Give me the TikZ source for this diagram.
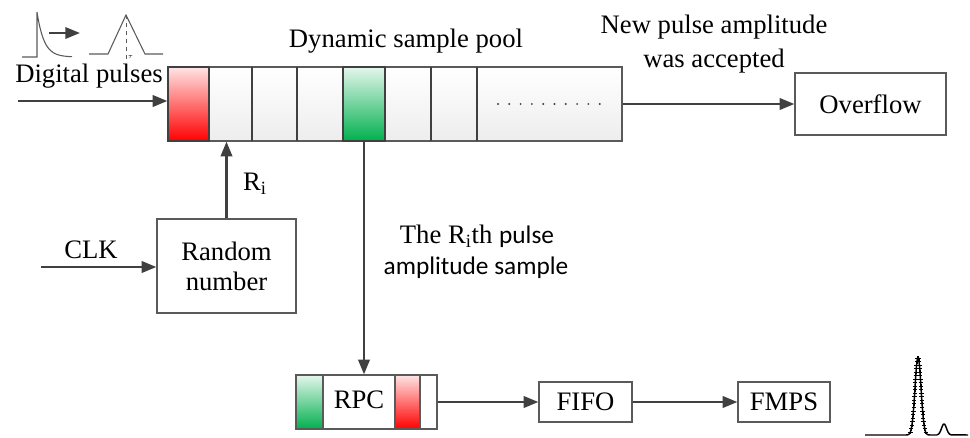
\documentclass[tikz,border=0pt]{standalone}
\usepackage{fontspec}
\setmainfont{Liberation Serif}
\newfontfamily\sanstext{Carlito}
\usetikzlibrary{arrows.meta,calc}
\definecolor{lineclr}{HTML}{404040}
\definecolor{boxclr}{HTML}{5A5A5A}
\definecolor{grnA}{HTML}{E4F6EC}
\definecolor{grnB}{HTML}{00D890}
\definecolor{grnC}{HTML}{00B04E}
\definecolor{redA}{HTML}{FFE4E4}
\begin{document}
\begin{tikzpicture}[x=0.75pt,y=-0.75pt,
  font=\fontsize{20}{23}\selectfont,
  conn/.style={draw=lineclr,line width=1.9pt,-{Triangle[length=11pt,width=8.5pt]}},
  block/.style={draw=boxclr,line width=0.9pt,fill=white,inner sep=0pt,align=center},
  pool/.style={draw=boxclr,line width=0.9pt,top color=white,bottom color=black!7,inner sep=0pt},
  redcell/.style={draw=lineclr,line width=0.9pt,top color=redA,bottom color=red,inner sep=0pt},
  grncell/.style={draw=lineclr,line width=0.9pt,top color=grnA,middle color=grnB,bottom color=grnC,inner sep=0pt},
  divider/.style={draw=lineclr,line width=2pt},
  label/.style={inner sep=0pt,align=center},
  icon/.style={draw=boxclr,line width=0.8pt}]
\useasboundingbox (0,0) rectangle (970,437);

% dynamic sample pool
\node[pool,minimum width=340.5pt,minimum height=55.5pt] (pool) at (395,104) {};
\node[redcell,minimum width=30.75pt,minimum height=55.5pt] (red) at (188.5,104) {};
\node[grncell,minimum width=31.5pt,minimum height=55.5pt,line width=2pt] (grn) at (364,104) {};
\foreach \xx in {252,297,431,477}
  \draw[divider] (\xx,67) -- (\xx,141);
\foreach \k in {0,...,9}
  \fill[lineclr] ({498+\k*11.3},104) circle (0.8pt);

% blocks
\node[block,minimum width=113.25pt,minimum height=46.5pt] (ovf) at (870.5,104) {Overflow};
\node[block,minimum width=104.25pt,minimum height=70.5pt,font=\fontsize{20}{22.5}\selectfont] (rand) at (226.5,266) {Random\\number};
\node[block,minimum width=105.75pt,minimum height=40.5pt] (rpc) at (366.5,402) {};
\node[grncell,draw=boxclr,line width=0.9pt,minimum width=20.25pt,minimum height=40.5pt] (rgrn) at (309.5,402) {};
\node[redcell,draw=boxclr,line width=0.9pt,minimum width=18.75pt,minimum height=40.5pt] (rred) at (407.5,402) {};
\node[label] (rpct) at (359,400) {RPC};
\node[block,minimum width=69.75pt,minimum height=30pt] (fifo) at (585.5,402) {FIFO};
\node[block,minimum width=69pt,minimum height=30pt] (fmps) at (784,402) {FMPS};

% labels
\node[label] (dp) at (89,76) {Digital pulses};
\node[label] (dsp) at (406,41) {Dynamic sample pool};
\node[label,font=\fontsize{20}{25.5}\selectfont] (npa) at (714,44) {New pulse amplitude\\was accepted};
\node[label] (clk) at (91,250) {CLK};
\node[label] (ri) at (255,184) {R\textsubscript{i}};
\node[label] (rith) at (477,236) {The R\textsubscript{i}th {\sanstext\fontsize{19}{22}\selectfont pulse}};
\node[label,font=\sanstext\fontsize{19}{22}\selectfont] (amp) at (476,268) {amplitude sample};

% connectors
\coordinate (din) at (18,101);
\coordinate (clkin) at (41,267);
\draw[conn] (din) -- (din -| pool.west);
\draw[conn] (clkin) -- (clkin -| rand.west);
\draw[conn] (rand.north) -- (rand.north |- pool.south);
\draw[conn] (grn.south) -- (grn.south |- rpc.north);
\draw[conn] (pool.east) -- (ovf.west);
\draw[conn] (rpc.east) -- (fifo.west);
\draw[conn] (fifo.east) -- (fmps.west);

% pulse shapes: exponential pulse, shaping arrow, triangular pulse
\draw[icon] (22,57) -- (37,57) -- (37,12)
  plot[domain=37:72,samples=40] (\x,{57-45*exp(-(\x-37)/7)});
\coordinate (sa) at (49,33);
\coordinate (sb) at (80,33);
\draw[conn,line width=1.7pt] (sa) -- (sb);
\draw[icon] (89,54) -- (108,54) -- (126,15) -- (145,54) -- (163,54);
\draw[icon,dashed,line width=0.6pt] (126,15) -- (126,60);
\node[inner sep=0pt,font=\fontsize{5}{6}\selectfont] (tau) at (130.5,57.5) {$\tau$};

% spectrum
\draw[black,line width=1.1pt] (865,435) -- (906,435)
  plot[domain=906:930,samples=60] (\x,{435-78*exp(-((\x-918)/3)^2/2)})
  -- (937,435)
  plot[domain=937:951,samples=30] (\x,{435-11*exp(-((\x-944)/2.5)^2/2)})
  -- (968,435);
\draw[black,line width=0.5pt] plot[only marks,mark=+,mark size=1.6pt,domain=358:432,samples=22]
  ({918-3*sqrt(-2*ln((435-\x)/78))},\x);
\draw[black,line width=0.5pt] plot[only marks,mark=+,mark size=1.6pt,domain=358:432,samples=22]
  ({918+3*sqrt(-2*ln((435-\x)/78))},\x);
\end{tikzpicture}
\end{document}
